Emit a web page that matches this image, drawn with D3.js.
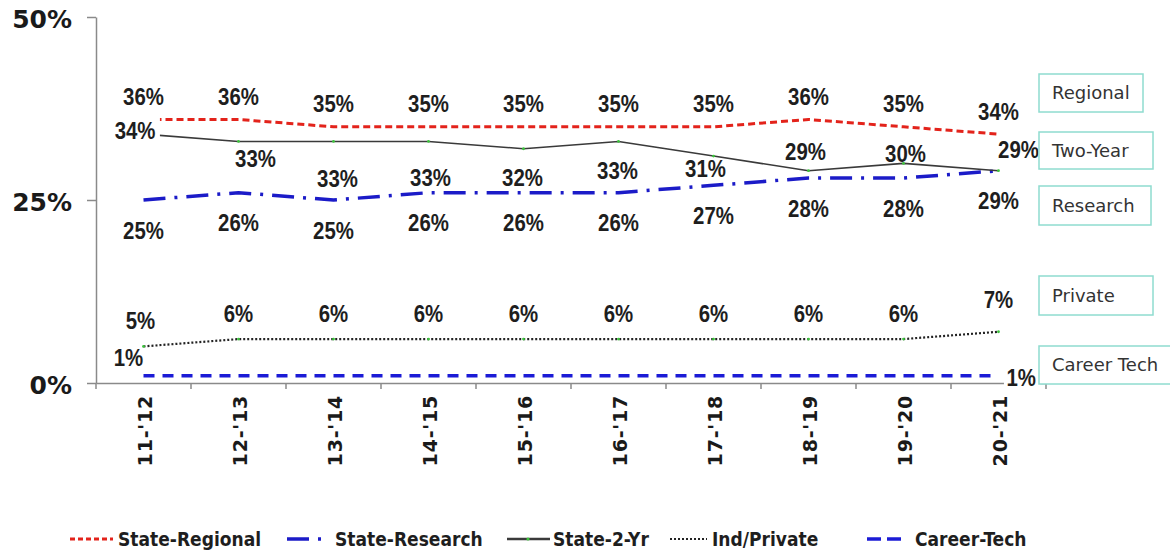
<!DOCTYPE html>
<html><head><meta charset="utf-8">
<script src="https://cdn.jsdelivr.net/npm/d3@7"></script>
<style>
html,body{margin:0;padding:0;background:#fff;}
svg{display:block;}
</style></head>
<body>
<svg id="chart" width="1170" height="556"></svg>
<script>
// ---- data ----
const categories = ["11-'12","12-'13","13-'14","14-'15","15-'16","16-'17","17-'18","18-'19","19-'20","20-'21"];
const stateRegional = [36,36,35,35,35,35,35,36,35,34];
const stateResearch = [25,26,25,26,26,26,27,28,28,29];
const state2Yr      = [34,33,33,33,32,33,31,29,30,29];
const indPrivate    = [5,6,6,6,6,6,6,6,6,7];
const careerTech    = [1,1,1,1,1,1,1,1,1,1];
const yTickValues   = [0,25,50];
const seriesNames   = ["State-Regional","State-Research","State-2-Yr","Ind/Private","Career-Tech"];
const boxLabels     = ["Regional","Two-Year","Research","Private","Career Tech"];

// ---- layout / style ----
const svg = d3.select("#chart");
const x = d3.scaleBand().domain(categories).range([96,1046]).paddingInner(0).paddingOuter(0);
const y = d3.scaleLinear().domain([0,50]).range([383,17]);
const cx = c => x(c) + x.bandwidth()/2;
const axisColor = "#8a8a8a";
const labelFont = "'Liberation Sans',Arial,sans-serif";

const styles = [
  {color:"#e3231b", width:3,   dash:"7,4"},          // regional
  {color:"#1b1bc8", width:3.5, dash:"22,9,3,9"},     // research
  {color:"#3a3a3a", width:1.6, dash:null},           // 2yr
  {color:"#222",    width:2.2, dash:"2,2"},          // private
  {color:"#1b1bd6", width:3.5, dash:"11,8"}          // career
];
const allSeries = [stateRegional, stateResearch, state2Yr, indPrivate, careerTech];

// label offsets relative to point (dx, dy, anchor)
const lblRegional = categories.map(()=>({dx:0,dy:-23,a:"middle"}));
const lblResearch = categories.map(()=>({dx:0,dy:30,a:"middle"}));
const lbl2Yr = [
  {dx:12,dy:-4,a:"end",bg:true},{dx:17,dy:17,a:"middle"},{dx:4,dy:37,a:"middle"},{dx:2,dy:36,a:"middle"},
  {dx:-1,dy:29,a:"middle"},{dx:-1,dy:29,a:"middle"},{dx:-8,dy:12,a:"middle"},{dx:-3,dy:-19,a:"middle"},
  {dx:2,dy:-10,a:"middle"},{dx:20,dy:-21,a:"middle"}];
const lblPrivate = categories.map((c,i)=>({dx:i===0?-3:0,dy:i===9?-32:-26,a:"middle"}));
const lblCareer = categories.map((c,i)=> i===0?{dx:-15,dy:-18,a:"middle"}:(i===9?{dx:8,dy:2,a:"start",bg:true}:null));

// ---- axes ----
const yAxis = d3.axisLeft(y).tickValues(yTickValues).tickSize(9).tickSizeOuter(0).tickPadding(15).tickFormat(d=>d+"%");
const gy = svg.append("g").attr("transform","translate(96,0)").call(yAxis);
gy.select(".domain").attr("stroke",axisColor).attr("stroke-width",1.5);
gy.selectAll(".tick line").attr("stroke",axisColor).attr("stroke-width",1.5);
gy.selectAll(".tick text").attr("fill","#1a1a1a")
  .style("font-family","'DejaVu Sans',sans-serif").style("font-weight","bold").style("font-size","25px")
  .attr("dy","0.42em");

const xAxis = d3.axisBottom(x).tickSize(0).tickSizeOuter(0);
const gx = svg.append("g").attr("transform","translate(0,383)").call(xAxis);
gx.select(".domain").attr("stroke",axisColor).attr("stroke-width",1.5);
gx.selectAll(".tick text")
  .attr("transform","rotate(-90)")
  .attr("x",-12).attr("y",2).attr("dy","0.35em")
  .attr("text-anchor","end").attr("fill","#1a1a1a")
  .style("font-family","'DejaVu Sans',sans-serif").style("font-weight","bold").style("font-size","19px")
  .style("letter-spacing","0.8px");
// boundary ticks (between categories)
gx.selectAll("line.bt").data(d3.range(categories.length+1)).join("line").attr("class","bt")
  .attr("x1",i=>x.range()[0]+i*x.step()).attr("x2",i=>x.range()[0]+i*x.step())
  .attr("y1",0).attr("y2",6).attr("stroke",axisColor).attr("stroke-width",1.5);

// ---- series lines ----
const line = d3.line().x((d,i)=>cx(categories[i])).y(d=>y(d));
allSeries.forEach((s,k)=>{
  svg.append("path").datum(s).attr("d",line).attr("fill","none")
    .attr("stroke",styles[k].color).attr("stroke-width",styles[k].width)
    .attr("stroke-dasharray",styles[k].dash).attr("stroke-linejoin","round");
});
// small green markers
[state2Yr, indPrivate].forEach(s=>{
  svg.append("g").selectAll("circle").data(s).join("circle")
    .attr("cx",(d,i)=>cx(categories[i])).attr("cy",d=>y(d)).attr("r",1.4).attr("fill","#3cc43c");
});

// ---- data labels ----
function addLabels(series, offs){
  series.forEach((v,i)=>{
    const o = offs[i]; if(!o) return;
    const px = cx(categories[i]) + o.dx, py = y(v) + o.dy;
    const g = svg.append("g").attr("transform",`translate(${px},${py}) scale(0.85,1)`);
    const t = g.append("text").attr("x",0).attr("y",0).attr("dy","0.36em")
      .attr("text-anchor",o.a).attr("fill","#1e1e1e")
      .style("font-family",labelFont).style("font-weight","bold").style("font-size","24px")
      .text(v+"%");
    if(o.bg){
      const bb = t.node().getBBox();
      g.insert("rect","text")
        .attr("x",bb.x-3).attr("y",bb.y-2).attr("width",bb.width+8).attr("height",bb.height+4).attr("fill","#fff");
    }
  });
}
addLabels(stateRegional, lblRegional);
addLabels(state2Yr, lbl2Yr);
addLabels(stateResearch, lblResearch);
addLabels(indPrivate, lblPrivate);
addLabels(careerTech, lblCareer);

// ---- annotation boxes ----
const boxes = [
  {x:1039,y:74,w:104,h:38},{x:1039,y:132,w:114,h:37},{x:1039,y:186,w:112,h:39},
  {x:1039,y:276,w:114,h:39},{x:1039,y:346,w:135,h:38}];
const gb = svg.append("g").selectAll("g").data(boxLabels).join("g");
gb.append("rect").attr("x",(d,i)=>boxes[i].x).attr("y",(d,i)=>boxes[i].y)
  .attr("width",(d,i)=>boxes[i].w).attr("height",(d,i)=>boxes[i].h)
  .attr("fill","#fff").attr("stroke","#8fdccf").attr("stroke-width",1.5);
gb.append("text").attr("x",(d,i)=>boxes[i].x+13).attr("y",(d,i)=>boxes[i].y+boxes[i].h/2)
  .attr("dy","0.36em").attr("fill","#333")
  .style("font-family","'DejaVu Sans',sans-serif").style("font-size","18px").text(d=>d);

// ---- legend ----
const legendPos = [{sx:70,sw:43,tx:118},{sx:287,sw:38,tx:335},{sx:507,sw:43,tx:553},{sx:670,sw:37,tx:712},{sx:867,sw:36,tx:915}];
const legendDash = ["5,3","22,9,3,9",null,"2,2","14,6"];
const lg = svg.append("g").selectAll("g").data(seriesNames).join("g");
lg.append("line").attr("x1",(d,i)=>legendPos[i].sx).attr("x2",(d,i)=>legendPos[i].sx+legendPos[i].sw)
  .attr("y1",539).attr("y2",539)
  .attr("stroke",(d,i)=>styles[i].color).attr("stroke-width",(d,i)=>i===2?2.5:styles[i].width)
  .attr("stroke-dasharray",(d,i)=>legendDash[i]);
lg.filter((d,i)=>i===2).append("circle").attr("cx",528).attr("cy",539).attr("r",1.6).attr("fill","#3cc43c");
lg.append("text").attr("x",(d,i)=>legendPos[i].tx).attr("y",539).attr("dy","0.36em")
  .attr("fill","#1e1e1e")
  .style("font-family","'DejaVu Sans Condensed','DejaVu Sans',sans-serif").style("font-weight","bold").style("font-size","19px")
  .text(d=>d);
</script>
</body></html>
